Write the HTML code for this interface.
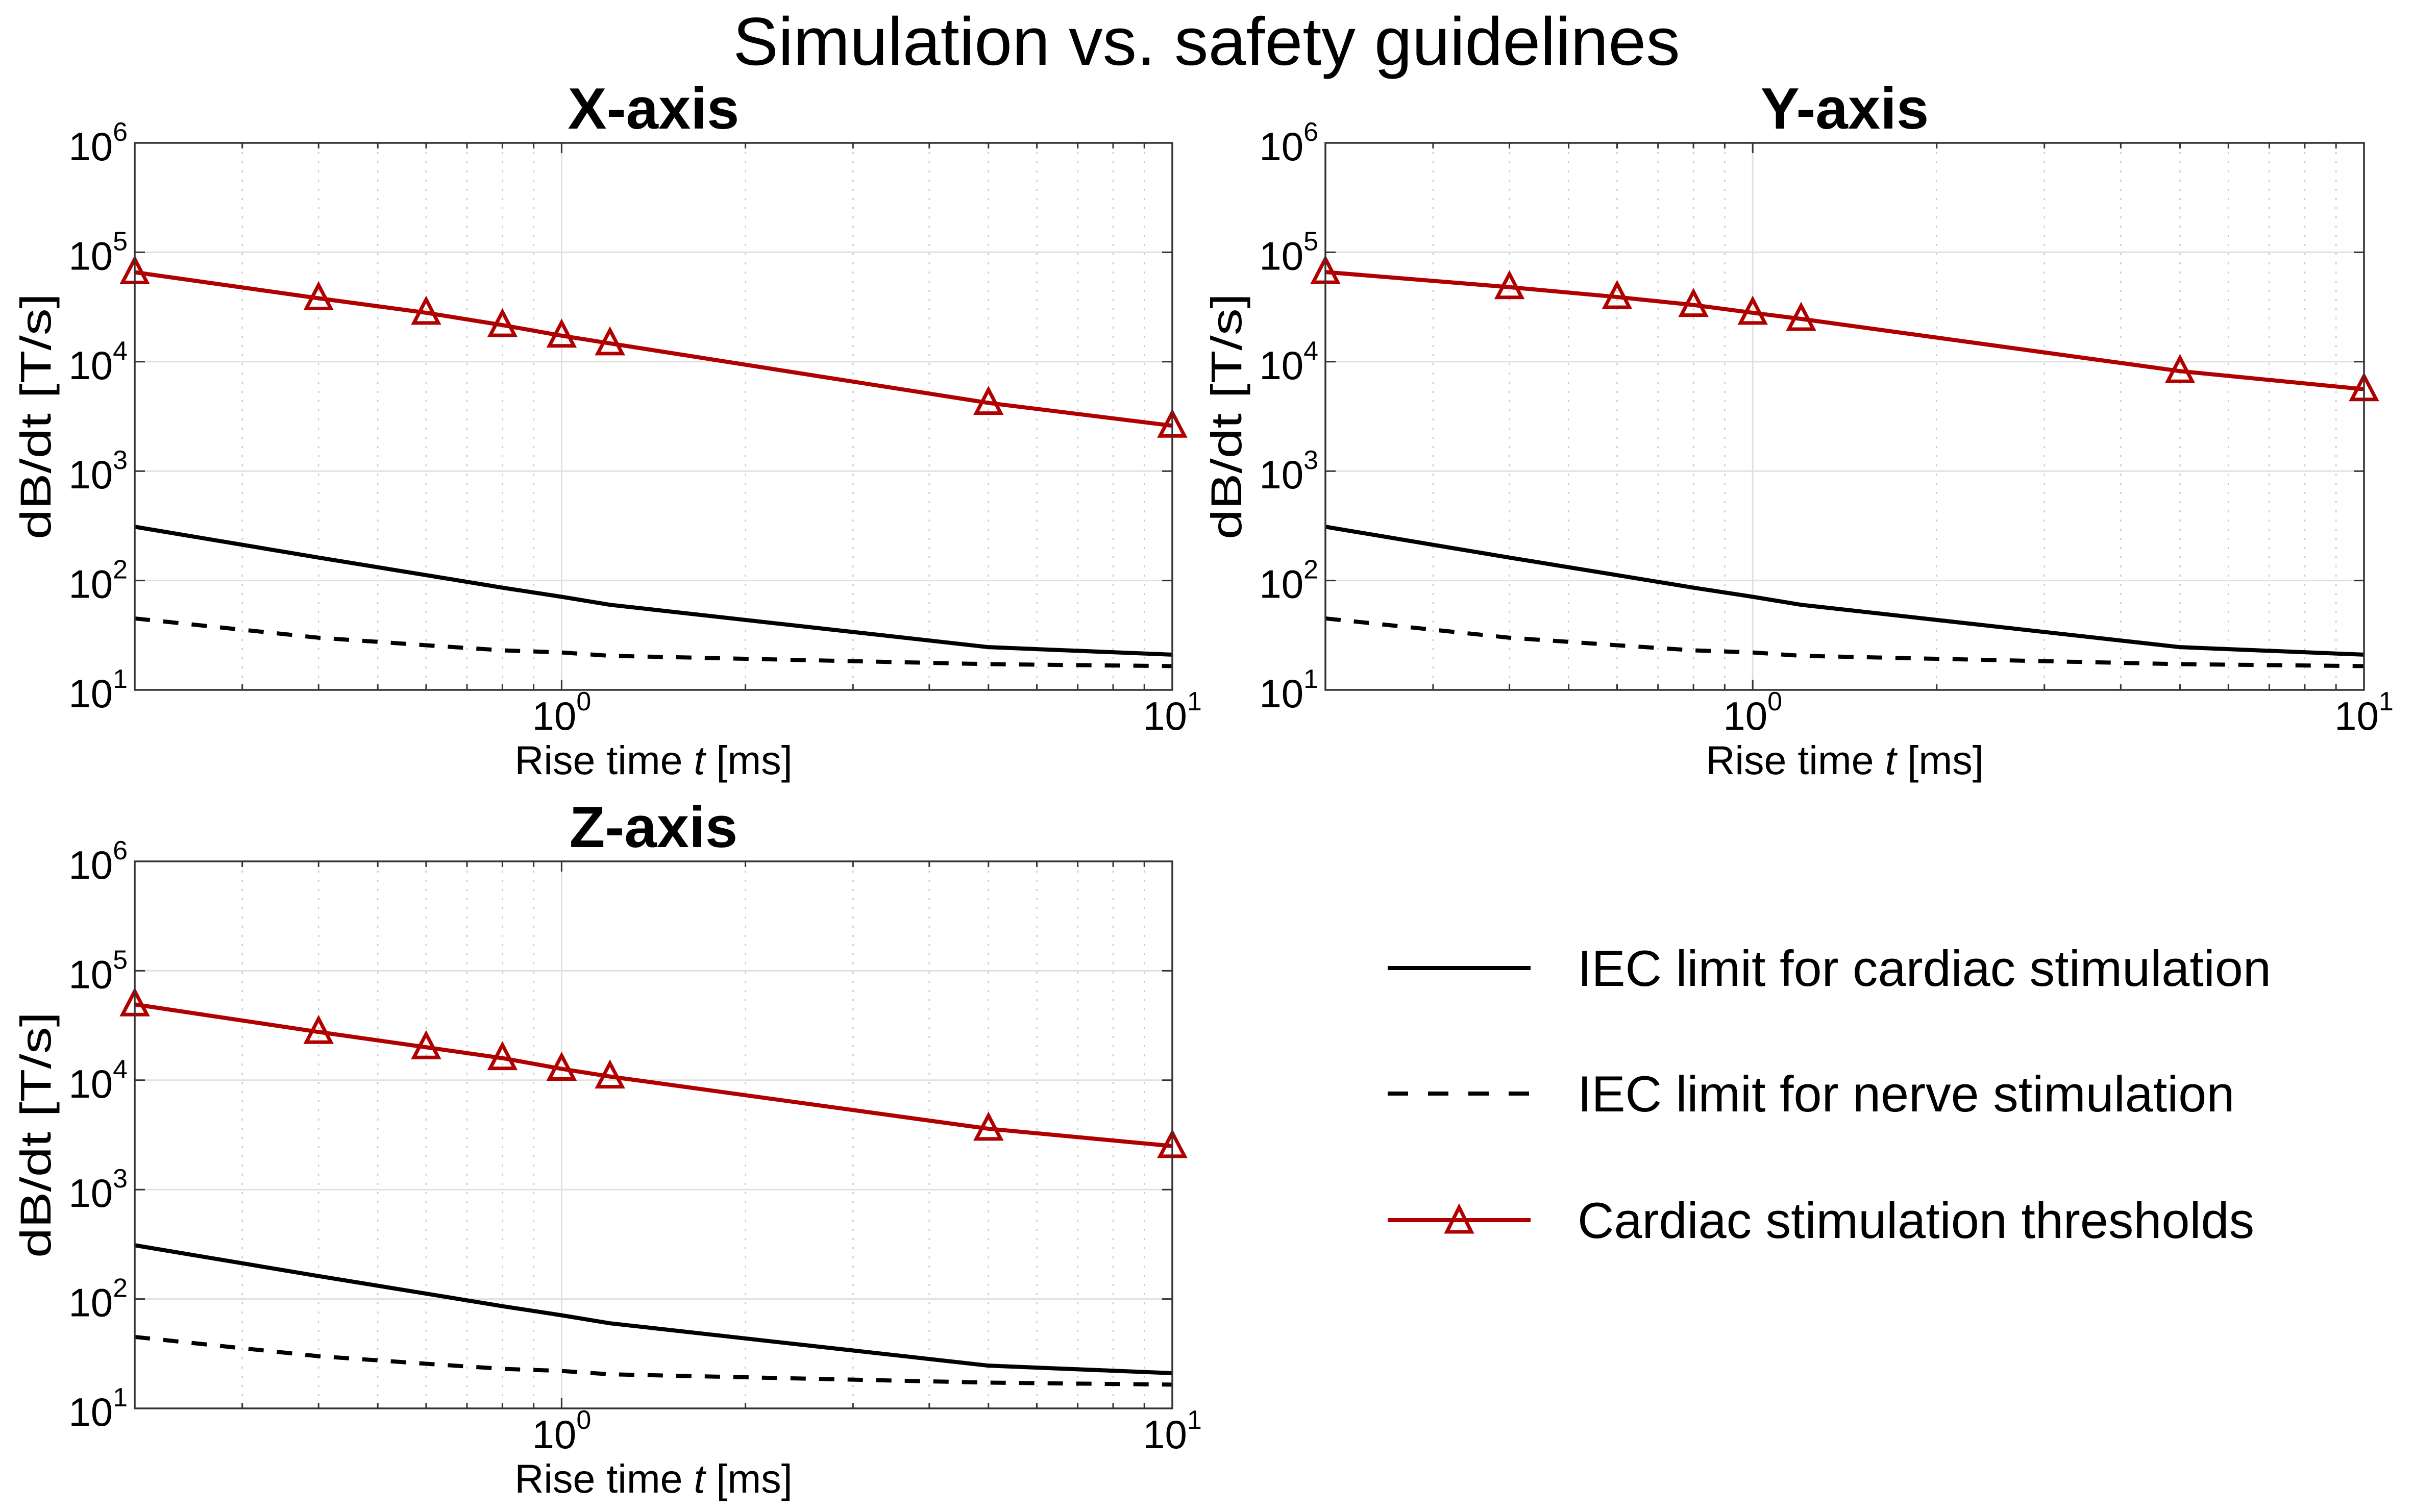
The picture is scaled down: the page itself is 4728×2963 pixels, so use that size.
<!DOCTYPE html>
<html><head><meta charset="utf-8"><style>
html,body{margin:0;padding:0;background:#fff}
svg{display:block;font-family:"Liberation Sans",Arial,sans-serif}
</style></head><body>
<svg id="fig" xmlns="http://www.w3.org/2000/svg" width="4728" height="2963" viewBox="0 0 4728 2963">
<rect width="4728" height="2963" fill="#fff"/>
<text x="2364" y="127" font-size="133" text-anchor="middle">Simulation vs. safety guidelines</text>
<g id="legend">
  <g>
    <line x1="2719" y1="1897" x2="2999" y2="1897" stroke="#000" stroke-width="8"/>
    <text x="3091" y="1932" font-size="99">IEC limit for cardiac stimulation</text>
  </g>
  <g>
    <line x1="2719" y1="2143" x2="2999" y2="2143" stroke="#000" stroke-width="8" stroke-dasharray="40 39"/>
    <text x="3091" y="2178" font-size="99">IEC limit for nerve stimulation</text>
  </g>
  <g>
    <line x1="2719" y1="2391" x2="2999" y2="2391" stroke="#b00000" stroke-width="8"/>
    <path d="M2859,2366 L2883,2414 L2835,2414 Z" fill="none" stroke="#b00000" stroke-width="7"/>
    <text x="3091" y="2426" font-size="99">Cardiac stimulation thresholds</text>
  </g>
</g>
</svg>
<script>
// shared data
const riseTimes = [0.2, 0.4, 0.6, 0.8, 1, 1.2, 5, 10];
const cardiacLimit = [310, 162, 112, 86, 71, 60, 24.6, 21];
const nerveLimit = [45, 30, 25.6, 23, 22, 20.5, 17.2, 16.5];
const thresholdsX = [65700, 38000, 28000, 21600, 17300, 14700, 4200, 2600];
const thresholdsY = [66000, 48000, 39000, 33000, 28000, 24600, 8200, 5600];
const thresholdsZ = [49300, 27600, 20000, 15900, 12700, 10800, 3600, 2500];
const yTickExps = [1, 2, 3, 4, 5, 6];
const xTickExps = [0, 1];
const panelTitles = ["X-axis", "Y-axis", "Z-axis"];

const NS = "http://www.w3.org/2000/svg";
const svg = document.getElementById("fig");
function mk(tag, attrs, parent) {
  const e = document.createElementNS(NS, tag);
  for (const k in attrs) e.setAttribute(k, attrs[k]);
  (parent || svg).appendChild(e);
  return e;
}

const panels = [
  {L: 264, R: 2297, T: 280, B: 1352, thr: thresholdsX, name: "x-axis-panel"},
  {L: 2597, R: 4632, T: 280, B: 1352, thr: thresholdsY, name: "y-axis-panel"},
  {L: 264, R: 2297, T: 1688, B: 2760, thr: thresholdsZ, name: "z-axis-panel"}
];
const xmin = Math.log10(0.2), xmax = 1, ymin = 1, ymax = 6;

panels.forEach((p, pi) => {
  const g = mk("g", {});
  
  
  const sx = v => p.L + (Math.log10(v) - xmin) / (xmax - xmin) * (p.R - p.L);
  const sy = v => p.B - (Math.log10(v) - ymin) / (ymax - ymin) * (p.B - p.T);

  for (let d = -1; d <= 0; d++) {
    for (let m = 2; m <= 9; m++) {
      const v = m * Math.pow(10, d);
      if (v <= 0.2 || v >= 10) continue;
      const x = sx(v);
      const gl = mk("line", {x1: x, y1: p.T, x2: x, y2: p.B, stroke: "#c8c8c8", "stroke-width": 2.5, "stroke-dasharray": "4 14"}, g);
      
      
      mk("line", {x1: x, y1: p.B, x2: x, y2: p.B - 11, stroke: "#333", "stroke-width": 3}, g);
      mk("line", {x1: x, y1: p.T, x2: x, y2: p.T + 11, stroke: "#333", "stroke-width": 3}, g);
    }
  }
  xTickExps.forEach(e => {
    const x = sx(Math.pow(10, e));
    if (x < p.R - 1) mk("line", {x1: x, y1: p.T, x2: x, y2: p.B, stroke: "#e0e0e0", "stroke-width": 3}, g);
    mk("line", {x1: x, y1: p.B, x2: x, y2: p.B - 20, stroke: "#333", "stroke-width": 3}, g);
    mk("line", {x1: x, y1: p.T, x2: x, y2: p.T + 20, stroke: "#333", "stroke-width": 3}, g);
    const t = mk("text", {x: x, y: p.B + 78, "font-size": 78, "text-anchor": "middle"}, g);
    
    
    t.innerHTML = '10<tspan font-size="52" dy="-38">' + e + '</tspan>';
  });
  yTickExps.forEach(e => {
    const y = sy(Math.pow(10, e));
    if (y > p.T + 1 && y < p.B - 1) mk("line", {x1: p.L, y1: y, x2: p.R, y2: y, stroke: "#e0e0e0", "stroke-width": 3}, g);
    mk("line", {x1: p.L, y1: y, x2: p.L + 20, y2: y, stroke: "#333", "stroke-width": 3}, g);
    mk("line", {x1: p.R, y1: y, x2: p.R - 20, y2: y, stroke: "#333", "stroke-width": 3}, g);
    const t = mk("text", {x: p.L - 14, y: y + 34, "font-size": 78, "text-anchor": "end"}, g);
    
    
    t.innerHTML = '10<tspan font-size="52" dy="-38">' + e + '</tspan>';
  });
  const pts = arr => arr.map((v, i) => sx(riseTimes[i]) + "," + sy(v)).join(" ");
  const l1 = mk("polyline", {points: pts(cardiacLimit), fill: "none", stroke: "#000", "stroke-width": 8, "stroke-linejoin": "round"}, g);
  
  
  const l2 = mk("polyline", {points: pts(nerveLimit), fill: "none", stroke: "#000", "stroke-width": 8, "stroke-dasharray": "30 26"}, g);
  
  
  const l3 = mk("polyline", {points: pts(p.thr), fill: "none", stroke: "#b00000", "stroke-width": 8, "stroke-linejoin": "round"}, g);
  
  
  p.thr.forEach((v, i) => {
    const x = sx(riseTimes[i]), y = sy(v);
    const m = mk("path", {d: `M${x},${y - 26} L${x + 24},${y + 20} L${x - 24},${y + 20} Z`, fill: "none", stroke: "#b00000", "stroke-width": 7}, g);
    
    
  });
  const fr = mk("rect", {x: p.L, y: p.T, width: p.R - p.L, height: p.B - p.T, fill: "none", stroke: "#333", "stroke-width": 3.5}, g);
  
  
  const tt = mk("text", {x: (p.L + p.R) / 2, y: p.T - 28, "font-size": 114, "font-weight": "bold", "text-anchor": "middle"}, g);
  
  
  tt.textContent = panelTitles[pi];
  const xl = mk("text", {x: (p.L + p.R) / 2, y: p.B + 165, "font-size": 79, "text-anchor": "middle"}, g);
  
  
  xl.innerHTML = 'Rise time <tspan font-style="italic">t</tspan> [ms]';
  const cy = (p.T + p.B) / 2, cx = p.L - 165;
  const yl = mk("text", {x: cx, y: cy, "font-size": 84, "text-anchor": "middle", textLength: 482, lengthAdjust: "spacingAndGlyphs", transform: `rotate(-90 ${cx} ${cy})`}, g);
  
  
  yl.textContent = "dB/dt [T/s]";
});
</script>
</body></html>
